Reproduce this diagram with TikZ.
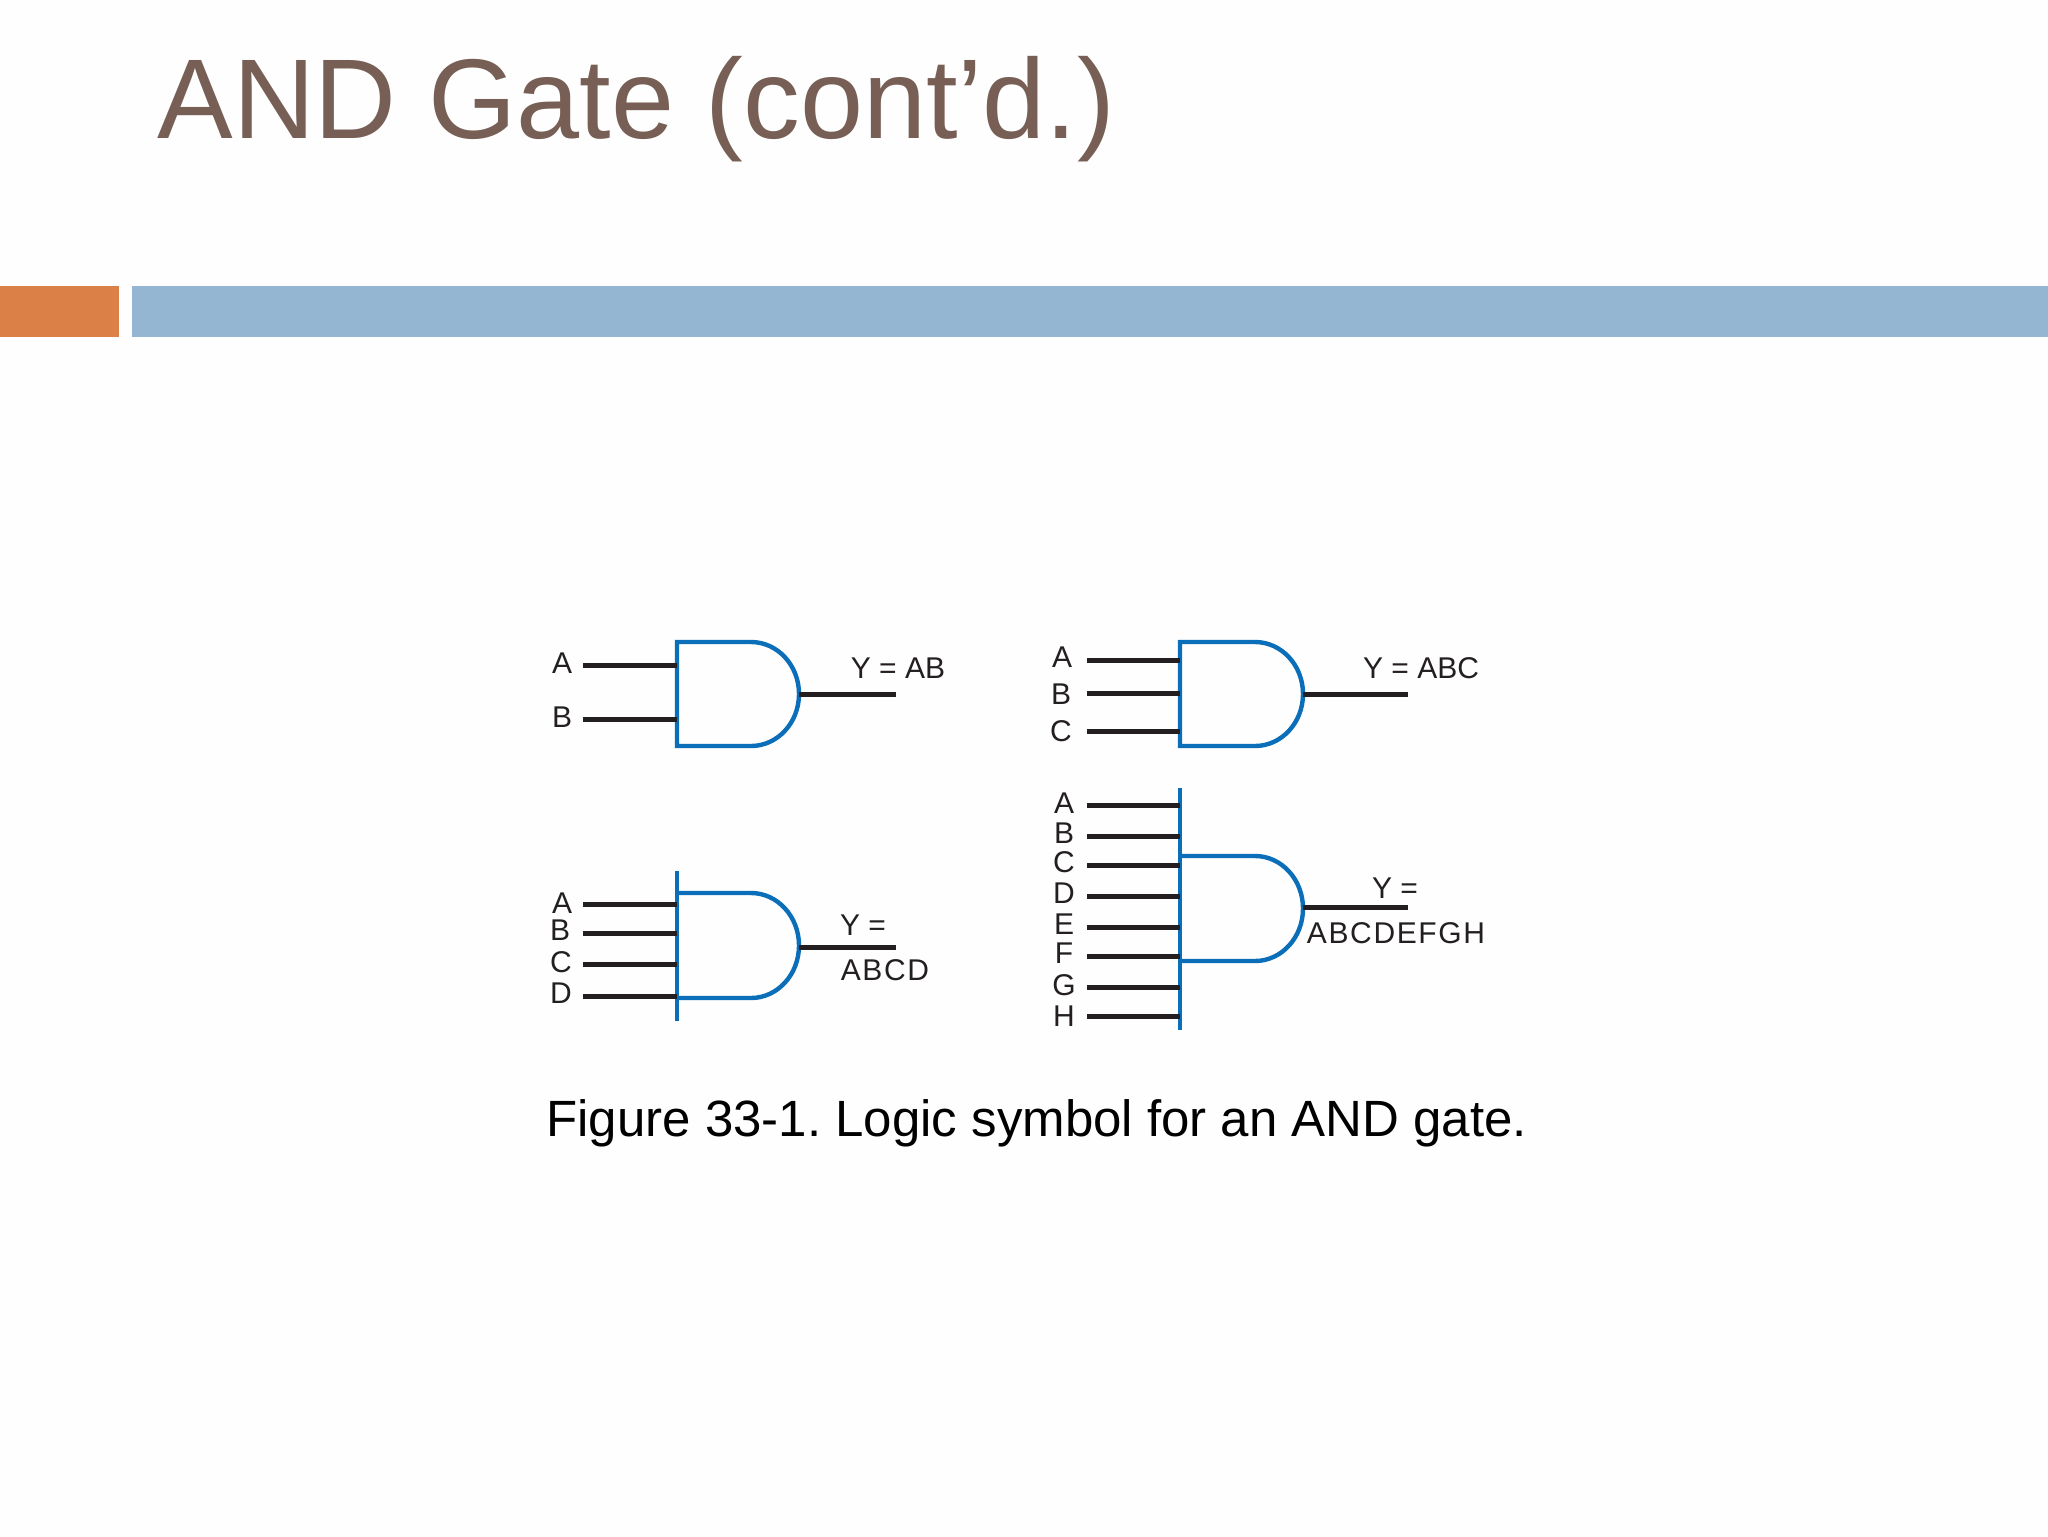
\documentclass[tikz,border=0pt]{standalone}
\usepackage{xcolor}
\usepackage{fontspec}
\setmainfont{Liberation Sans}
\newfontfamily\spacedfont[LetterSpace=5.5]{Liberation Sans}
\definecolor{titlebrown}{HTML}{775F55}
\definecolor{barorange}{HTML}{DB8046}
\definecolor{barblue}{HTML}{94B6D2}
\definecolor{gateblue}{HTML}{0B6EB8}
\definecolor{wireblack}{HTML}{231F20}
\tikzset{
  gatebody/.style={draw=gateblue, line width=2.2pt},
  wire/.style={draw=wireblack, line width=2.5pt},
  lbl/.style={inner sep=0pt, font=\fontsize{15}{15}\selectfont, text=wireblack},
  spaced/.style={inner sep=0pt, font=\fontsize{15}{15}\selectfont\spacedfont, text=wireblack}
}

\begin{document}
\frenchspacing
\begin{tikzpicture}[x=0.5pt, y=-0.5pt]
        \useasboundingbox (0,0) rectangle (2048,1536);
        \fill[white!99.5!black] (0,0) rectangle (2048,1536);

        % title and bars
        \node[anchor=base west, inner sep=0pt, text=titlebrown, font=\fontsize{56.7}{57}\selectfont] (title) at (157,139) {AND Gate (cont’d.)};
        \fill[barorange] (0,286) rectangle (119,337);
        \fill[barblue] (132,286) rectangle (2048,337);

        % gate AB
        \coordinate (gab) at (677,642);
        \coordinate (gabout) at (799,694);
        \draw[gatebody] (gab) -- (751,642) arc[start angle=-90, end angle=90, x radius=48, y radius=52] -- (677,746) -- cycle;
        \node[lbl] (abA) at (562,663) {A};
        \node[lbl] (abB) at (562,717) {B};
        \node[lbl] (abY) at (898,668) {Y = AB};
        \coordinate (abAw) at (583,665);
        \coordinate (abBw) at (583,719);
        \coordinate (abYw) at (896,694);
        \draw[wire] (abAw) -- (abAw -| gab);
        \draw[wire] (abBw) -- (abBw -| gab);
        \draw[wire] (gabout) -- (abYw);

        % gate ABC
        \coordinate (gabc) at (1180,642);
        \coordinate (gabcout) at (1303,694);
        \draw[gatebody] (gabc) -- (1255,642) arc[start angle=-90, end angle=90, x radius=48, y radius=52] -- (1180,746) -- cycle;
        \node[lbl] (abcA) at (1062,657) {A};
        \node[lbl] (abcB) at (1061,694) {B};
        \node[lbl] (abcC) at (1061,731) {C};
        \node[lbl] (abcY) at (1421,668) {Y = ABC};
        \coordinate (abcAw) at (1087,660);
        \coordinate (abcBw) at (1087,693);
        \coordinate (abcCw) at (1087,731);
        \coordinate (abcYw) at (1408,694);
        \draw[wire] (abcAw) -- (abcAw -| gabc);
        \draw[wire] (abcBw) -- (abcBw -| gabc);
        \draw[wire] (abcCw) -- (abcCw -| gabc);
        \draw[wire] (gabcout) -- (abcYw);

        % gate ABCD
        \coordinate (gabcd) at (677,871);
        \coordinate (gabcdend) at (677,1021);
        \coordinate (gabcdout) at (799,947);
        \draw[gatebody] (gabcd) -- (gabcdend);
        \draw[gatebody] (677,893) -- (751,893) arc[start angle=-90, end angle=90, x radius=48, y radius=52.5] -- (677,998);
        \node[lbl] (abcdA) at (562,903) {A};
        \node[lbl] (abcdB) at (560,930) {B};
        \node[lbl] (abcdC) at (561,962) {C};
        \node[lbl] (abcdD) at (561,993) {D};
        \node[lbl] (abcdY) at (863,925) {Y =};
        \node[lbl] (abcdT) at (885,970) {\spacedfont ABCD};
        \coordinate (abcdAw) at (583,904);
        \coordinate (abcdBw) at (583,933);
        \coordinate (abcdCw) at (583,964);
        \coordinate (abcdDw) at (583,996);
        \coordinate (abcdYw) at (896,947);
        \draw[wire] (abcdAw) -- (abcdAw -| gabcd);
        \draw[wire] (abcdBw) -- (abcdBw -| gabcd);
        \draw[wire] (abcdCw) -- (abcdCw -| gabcd);
        \draw[wire] (abcdDw) -- (abcdDw -| gabcd);
        \draw[wire] (gabcdout) -- (abcdYw);

        % gate ABCDEFGH
        \coordinate (gall) at (1180,788);
        \coordinate (gallend) at (1180,1030);
        \coordinate (gallout) at (1303,907);
        \draw[gatebody] (gall) -- (gallend);
        \draw[gatebody] (1180,856) -- (1255,856) arc[start angle=-90, end angle=90, x radius=48, y radius=52.5] -- (1180,961);
        \node[lbl] (allA) at (1064,803) {A};
        \node[lbl] (allB) at (1064,833) {B};
        \node[lbl] (allC) at (1064,862) {C};
        \node[lbl] (allD) at (1064,893) {D};
        \node[lbl] (allE) at (1064,924) {E};
        \node[lbl] (allF) at (1064,953) {F};
        \node[lbl] (allG) at (1064,985) {G};
        \node[lbl] (allH) at (1064,1016) {H};
        \node[lbl] (allY) at (1395,888) {Y =};
        \node[spaced] (allT) at (1396,933) {ABCDEFGH};
        \coordinate (allAw) at (1087,805);
        \coordinate (allBw) at (1087,836);
        \coordinate (allCw) at (1087,865);
        \coordinate (allDw) at (1087,896);
        \coordinate (allEw) at (1087,927);
        \coordinate (allFw) at (1087,956);
        \coordinate (allGw) at (1087,987);
        \coordinate (allHw) at (1087,1016);
        \coordinate (allYw) at (1408,907);
        \draw[wire] (allAw) -- (allAw -| gall);
        \draw[wire] (allBw) -- (allBw -| gall);
        \draw[wire] (allCw) -- (allCw -| gall);
        \draw[wire] (allDw) -- (allDw -| gall);
        \draw[wire] (allEw) -- (allEw -| gall);
        \draw[wire] (allFw) -- (allFw -| gall);
        \draw[wire] (allGw) -- (allGw -| gall);
        \draw[wire] (allHw) -- (allHw -| gall);
        \draw[wire] (gallout) -- (allYw);

        % caption
        \node[anchor=base west, inner sep=0pt, text=black, font=\fontsize{25.5}{26}\selectfont] (caption) at (546,1136) {Figure 33-1. Logic symbol for an AND gate.};
    \end{tikzpicture}
\end{document}
